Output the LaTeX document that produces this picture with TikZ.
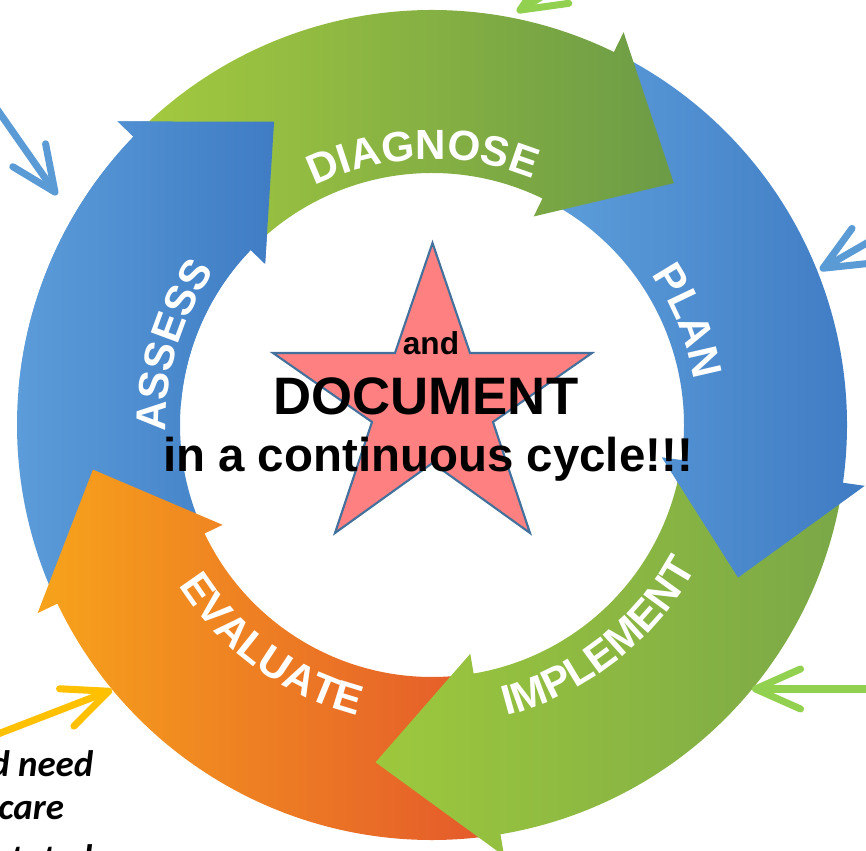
\documentclass[tikz,border=0pt]{standalone}
\usepackage{fontspec}
\setmainfont{Liberation Sans}
\newfontfamily\notefont{Carlito}
\usetikzlibrary{arrows.meta,decorations.text}

\definecolor{assessl}{HTML}{5FA0DC}
\definecolor{assessr}{HTML}{3F7CC4}
\definecolor{diagl}{HTML}{A3C93F}
\definecolor{diagr}{HTML}{6C9B46}
\definecolor{planl}{HTML}{5C9DDA}
\definecolor{planr}{HTML}{3F7BC3}
\definecolor{impll}{HTML}{9DC83D}
\definecolor{implr}{HTML}{7BA847}
\definecolor{evall}{HTML}{F7A31B}
\definecolor{evalr}{HTML}{E45A2B}
\definecolor{starfill}{HTML}{FF8080}
\definecolor{starline}{HTML}{41719C}
\definecolor{ptblue}{HTML}{5B9BD5}
\definecolor{ptgreen}{HTML}{92D050}
\definecolor{ptyellow}{HTML}{FFC000}

\newcommand{\ringout}{415}
\newcommand{\ringin}{252}
\newcommand{\barbout}{437}
\newcommand{\barbin}{232}
\newcommand{\tipr}{342}
\newcommand{\ringfont}{\bfseries\fontsize{24}{24}\selectfont}
% #1 tail angle, #2 barb angle, #3 tip angle, #4 fill
\newcommand{\ringarrow}[4]{%
  \path[#4] (#1:\ringout) arc[start angle=#1, end angle=#2, radius=\ringout]
    -- (#2:\barbout) -- (#3:\tipr) -- (#2:\barbin) -- (#2:\ringin)
    arc[start angle=#2, end angle=#1, radius=\ringin] -- cycle;}

\begin{document}
\begin{tikzpicture}[x=0.02cm, y=0.02cm,
    pointer/.style={line width=4pt, line cap=round, -{Straight Barb[length=0.9cm, width=0.8cm, round]}},
    ringtext/.style={decorate, decoration={text along path, text align=center, text color=white, text={|\ringfont|#1}}},
    note/.style={anchor=base west, inner sep=0pt, font=\notefont\bfseries\itshape\fontsize{21}{21}\selectfont}]
    \useasboundingbox (0,0) rectangle (866,851);
    \clip (0,0) rectangle (866,851);

    % cycle, each head lies on the next tail
    \begin{scope}[shift={(432,426)}]
        \coordinate (c) at (0,0);
        \ringarrow{203.5}{136}{117.5}{left color=assessl, right color=assessr}
        \ringarrow{277}{205.5}{187.5}{left color=evall, right color=evalr}
        \ringarrow{-10}{-80.5}{-99.5}{left color=impll, right color=implr}
        \ringarrow{62}{-8}{-26.5}{left color=planl, right color=planr}
        \ringarrow{134}{64}{45}{left color=diagl, right color=diagr}
        % assess head again on top
        \begin{scope}
            \clip (c) -- (100:600) -- (175:600) -- cycle;
            \ringarrow{203.5}{136}{117.5}{left color=assessl, right color=assessr}
        \end{scope}

        % labels
        \path[ringtext=ASSESS] (203:266) arc[start angle=203, end angle=123, radius=266];
        \path[ringtext=DIAGNOSE] (132:266) arc[start angle=132, end angle=52, radius=266];
        \path[ringtext=PLAN] (62:266) arc[start angle=62, end angle=-18, radius=266];
        \path[ringtext=IMPLEMENT] (-92:300) arc[start angle=-92, end angle=-12, radius=300];
        \path[ringtext=EVALUATE] (194:300) arc[start angle=194, end angle=274, radius=300];
    \end{scope}

    % star
    \draw[line width=1.2pt, draw=starline, fill=starfill]
        (432.5,608) -- (470,498) -- (592,498) -- (493,429) -- (530,318) -- (432.5,388)
        -- (335,318) -- (372,429) -- (273,498) -- (395,498) -- cycle;
    \node[anchor=base, font=\bfseries\fontsize{18}{18}\selectfont] (andtxt) at (431,496) {and};
    \node[anchor=base, font=\bfseries\fontsize{30}{30}\selectfont] (doctxt) at (426,436) {DOCUMENT};
    \node[anchor=base, font=\bfseries\fontsize{27}{27}\selectfont] (cycletxt) at (428,379) {in a continuous cycle!!!};

    % pointers
    \coordinate (assessfrom) at (-29,779);
    \coordinate (assessat) at (57,656);
    \coordinate (diagfrom) at (644,918);
    \coordinate (diagat) at (517,839);
    \coordinate (planfrom) at (950,656);
    \coordinate (planat) at (820,581);
    \coordinate (implfrom) at (950,162);
    \coordinate (implat) at (752,162);
    \coordinate (evalfrom) at (-28,107);
    \coordinate (evalat) at (112,161);
    \draw[pointer, ptblue] (assessfrom) -- (assessat);
    \draw[pointer, ptgreen] (diagfrom) -- (diagat);
    \draw[pointer, ptblue] (planfrom) -- (planat);
    \draw[pointer, ptgreen] (implfrom) -- (implat);
    \draw[pointer, ptyellow] (evalfrom) -- (evalat);

    % note
    \node[note] (need) at (-10,74) {d need};
    \node[note] (care) at (-2,31) {care};
    \node[note] (stated) at (-4,-20) {stated};
\end{tikzpicture}
\end{document}
